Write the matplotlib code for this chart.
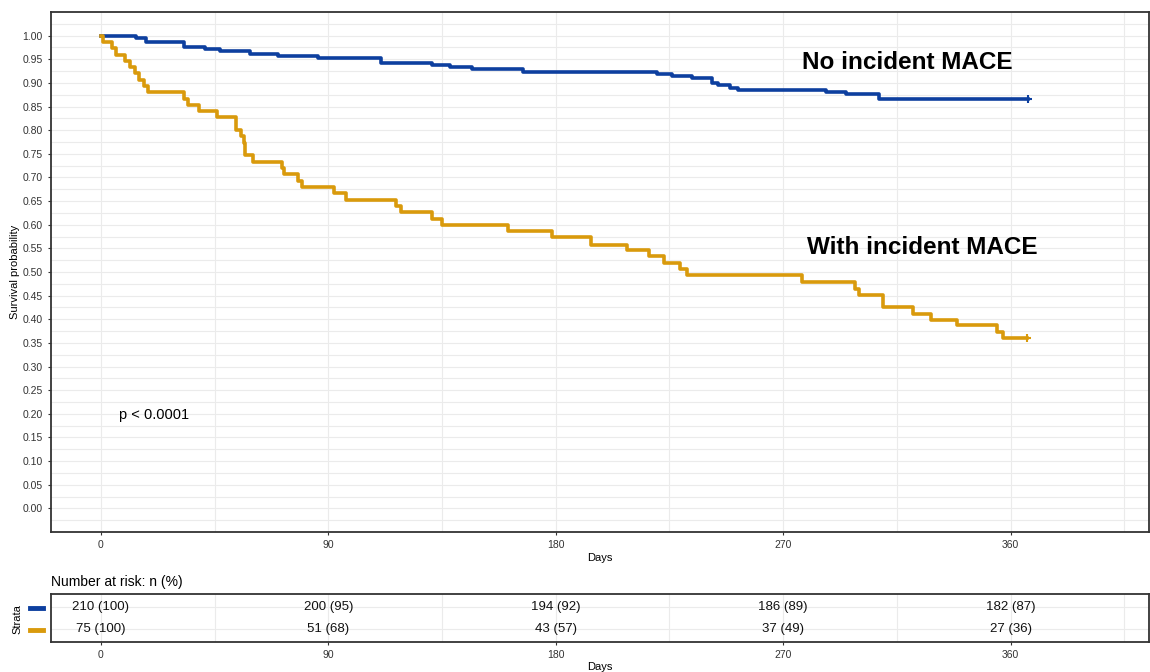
import numpy as np
import matplotlib.pyplot as plt

plt.rcParams['font.family'] = ['Liberation Sans', 'DejaVu Sans']

# Kaplan-Meier step values
blue_days = [0, 14, 18, 33, 41, 47, 59, 70, 86, 111, 131, 138, 147, 167, 220, 226,
             234, 242, 244, 249, 252, 287, 295, 308, 367]
blue_surv = [1.000, 0.995, 0.986, 0.976, 0.971, 0.967, 0.962, 0.957, 0.952, 0.943,
             0.938, 0.933, 0.929, 0.924, 0.919, 0.914, 0.910, 0.900, 0.895, 0.890,
             0.886, 0.881, 0.876, 0.867, 0.867]

orange_days = [0, 1, 4.5, 6, 9.5, 11.5, 13.5, 15, 17, 18.5, 33, 34.5, 39, 46, 53.4,
               55.5, 56.5, 57, 60, 71.6, 72.5, 78, 79.5, 92.4, 97, 116.8, 118.8, 131,
               135, 161, 178.7, 194, 208, 217, 223, 229, 232, 277.4, 298.6, 300,
               309.5, 321.4, 328.3, 338.6, 354.5, 357, 366.6]
orange_surv = [1.000, 0.987, 0.973, 0.960, 0.947, 0.933, 0.920, 0.907, 0.893, 0.880,
               0.867, 0.853, 0.840, 0.827, 0.800, 0.787, 0.773, 0.747, 0.733, 0.720,
               0.707, 0.693, 0.680, 0.667, 0.653, 0.640, 0.627, 0.613, 0.600, 0.587,
               0.573, 0.557, 0.547, 0.533, 0.518, 0.506, 0.493, 0.479, 0.465, 0.451,
               0.427, 0.412, 0.398, 0.388, 0.373, 0.360, 0.360]

# number at risk table
risk_times = [0, 90, 180, 270, 360]
risk_blue = ["210 (100)", "200 (95)", "194 (92)", "186 (89)", "182 (87)"]
risk_orange = ["75 (100)", "51 (68)", "43 (57)", "37 (49)", "27 (36)"]

blue = "#0d3f9f"
orange = "#d99a0c"
grid_c = "#ebebeb"
tick_c = "#333333"
xmin, xmax = -19.75, 414.75

fig = plt.figure(figsize=(11.5, 6.72), dpi=100)

# main survival panel
ax = fig.add_axes([51 / 1150, 1 - 532 / 672, 1098 / 1150, 520 / 672])
ax.set_xlim(xmin, xmax)
ax.set_ylim(-0.05, 1.05)
ax.set_xticks(risk_times)
ax.set_xticks(np.arange(45, 410, 90), minor=True)
ax.set_yticks(np.arange(0, 1.001, 0.05))
ax.set_yticks(np.arange(-0.025, 1.05, 0.05), minor=True)
ax.set_yticklabels([f"{v:.2f}" for v in np.arange(0, 1.001, 0.05)])
ax.grid(True, which='both', color=grid_c, linewidth=0.8)
ax.set_axisbelow(True)
ax.tick_params(which='major', labelsize=7.5, colors=tick_c, length=2.5, width=0.8)
ax.tick_params(which='minor', length=0)
for sp in ax.spines.values():
    sp.set_color("#333333")
    sp.set_linewidth(1.3)

ax.step(blue_days, blue_surv, where='post', color=blue, linewidth=2.6)
ax.step(orange_days, orange_surv, where='post', color=orange, linewidth=2.6)
ax.plot(blue_days[-1], blue_surv[-1], marker='+', color=blue, markersize=6, mew=1.5)
ax.plot(orange_days[-1], orange_surv[-1], marker='+', color=orange, markersize=6, mew=1.5)

ax.set_xlabel("Days", fontsize=8, labelpad=2)
ax.set_ylabel("Survival probability", fontsize=8, labelpad=2)

ax.text(319, 0.943, "No incident MACE", fontsize=17.5, fontweight='bold',
        ha='center', va='center')
ax.text(325, 0.552, "With incident MACE", fontsize=17.5, fontweight='bold',
        ha='center', va='center')
ax.text(7, 0.198, "p < 0.0001", fontsize=10.5, ha='left', va='center')

# risk table panel
rt = fig.add_axes([51 / 1150, 1 - 642 / 672, 1098 / 1150, 48 / 672])
rt.set_xlim(xmin, xmax)
rt.set_ylim(0.4, 2.6)
rt.set_xticks(risk_times)
rt.set_xticks(np.arange(45, 410, 90), minor=True)
rt.set_yticks([1, 2])
rt.set_yticklabels([])
rt.grid(True, which='both', color=grid_c, linewidth=0.8)
rt.set_axisbelow(True)
rt.tick_params(axis='x', which='major', labelsize=7.5, colors=tick_c, length=2.5, width=0.8)
rt.tick_params(axis='y', length=0)
rt.tick_params(which='minor', length=0)
for sp in rt.spines.values():
    sp.set_color("#333333")
    sp.set_linewidth(1.3)

for t, b, o in zip(risk_times, risk_blue, risk_orange):
    rt.text(t, 2, b, fontsize=9.5, ha='center', va='center', color="#111111")
    rt.text(t, 1, o, fontsize=9.5, ha='center', va='center', color="#111111")

rt.set_xlabel("Days", fontsize=8, labelpad=1)
fig.text(51 / 1150, 1 - 582 / 672, "Number at risk: n (%)", fontsize=10,
         ha='left', va='center')
fig.text(17 / 1150, 1 - 619 / 672, "Strata", fontsize=8, rotation=90,
         ha='center', va='center')
fig.add_artist(plt.Line2D([30 / 1150, 43 / 1150], [1 - 608 / 672] * 2,
                          color=blue, linewidth=3.5))
fig.add_artist(plt.Line2D([30 / 1150, 43 / 1150], [1 - 630 / 672] * 2,
                          color=orange, linewidth=3.5))

fig.savefig("out.png", dpi=100)
